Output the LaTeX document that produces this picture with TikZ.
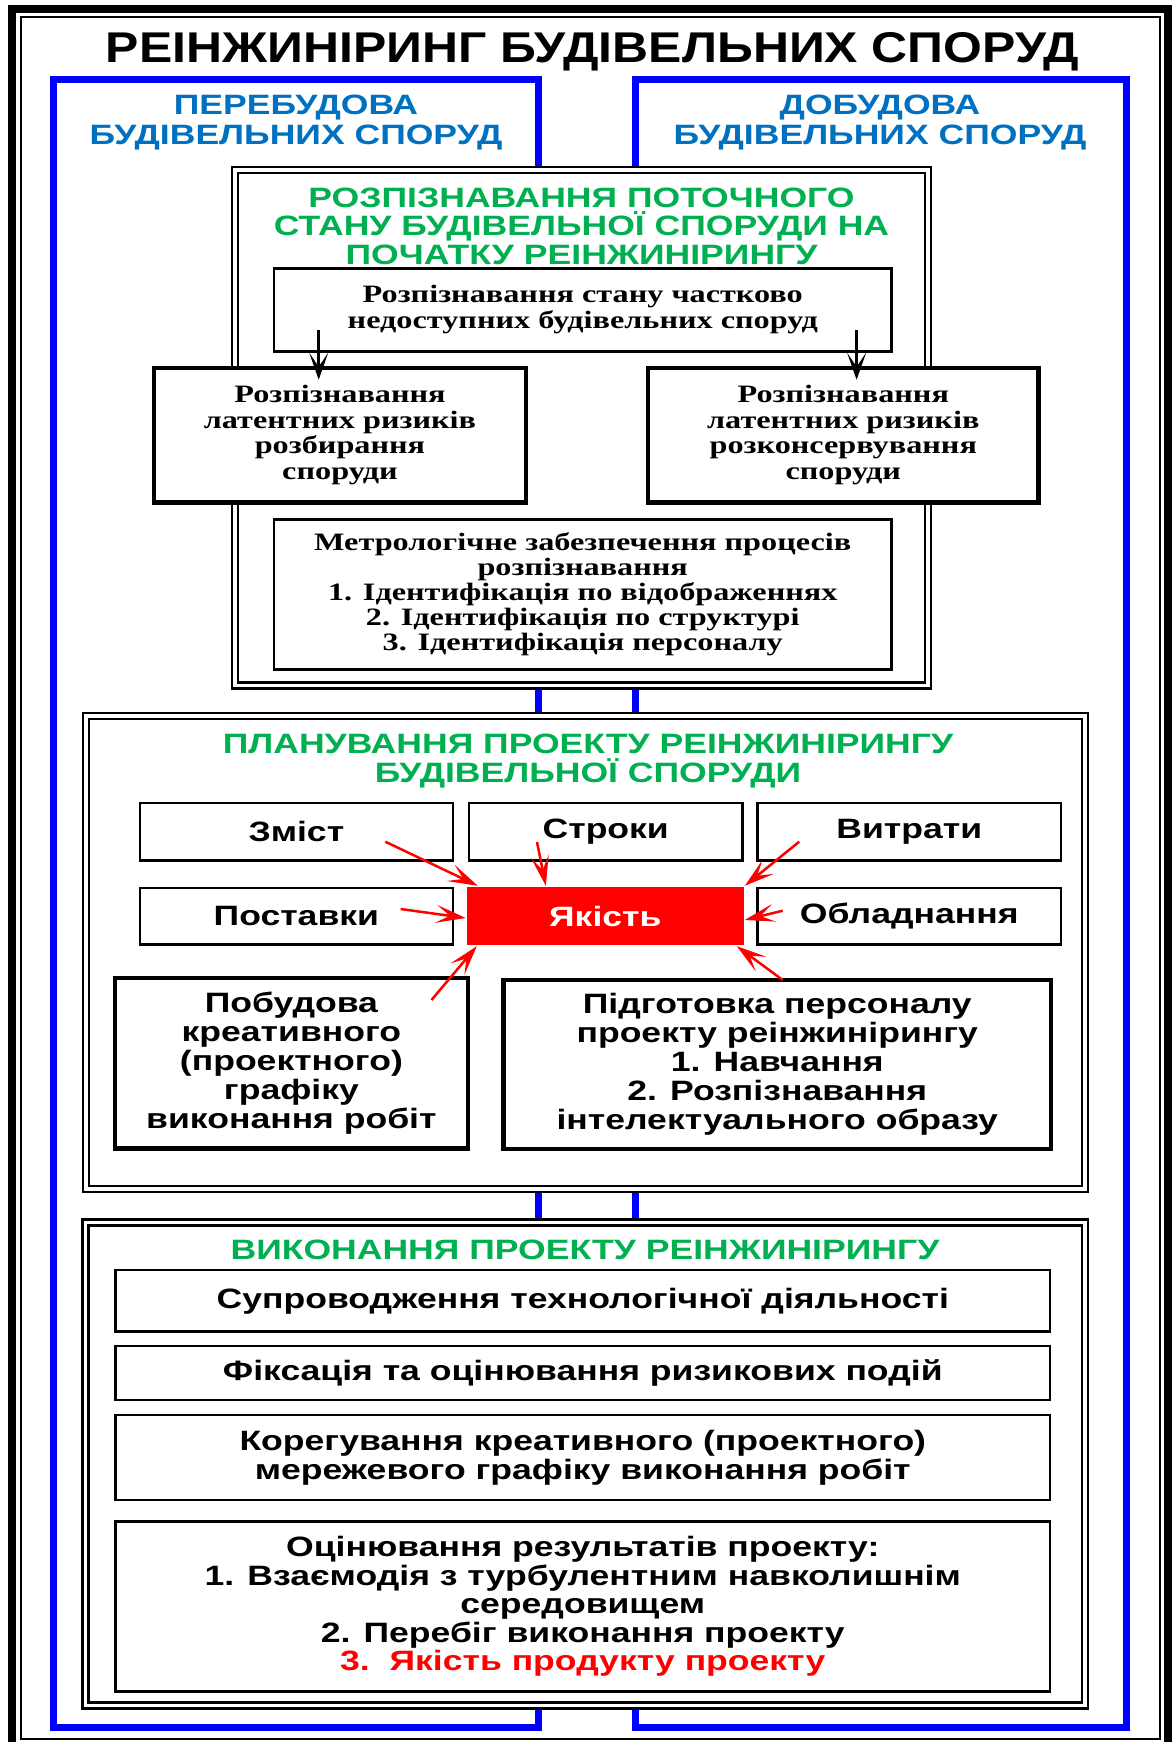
\documentclass[tikz,border=0pt]{standalone}
\usepackage{fontspec}
\setmainfont{Liberation Serif}[FakeStretch=1.29]
\setsansfont{Liberation Sans}[FakeStretch=1.27]
\newfontfamily\titlefont{Liberation Sans}[FakeStretch=1.16]
\usetikzlibrary{arrows.meta}
\definecolor{lineblue}{RGB}{0,0,255}
\definecolor{headblue}{RGB}{0,112,192}
\definecolor{headgreen}{RGB}{0,176,80}
\definecolor{accent}{RGB}{255,0,0}

\begin{document}
\begin{tikzpicture}[x=1pt, y=-1pt,
    every node/.style={inner sep=0pt},
    stage/.style={rectangle, draw, line width=2.3pt, double, double distance=3.7pt, fill=white},
    box/.style={rectangle, draw, line width=2.4pt, fill=white, align=center,
                font=\sffamily\bfseries\fontsize{28}{28.5}\selectfont},
    heavy/.style={line width=4.5pt},
    serif/.style={font=\rmfamily\bfseries\fontsize{25}{25.5}\selectfont},
    stagehead/.style={align=center, text=headgreen, font=\sffamily\bfseries\fontsize{28}{28.5}\selectfont},
    sidehead/.style={align=center, text=headblue, font=\sffamily\bfseries\fontsize{28}{30}\selectfont},
    ar/.style={-{Stealth[length=27pt, width=19pt, inset=14pt]}, line width=2.7pt},
    rar/.style={draw=accent, -{Stealth[length=30pt, width=18pt, inset=14pt, accent]}, line width=2.5pt}
]
\useasboundingbox (0,0) rectangle (1173,1742);
\fill[white] (0,0) rectangle (1173,1742);
% page frame
\draw[line width=8pt] (12,9) rectangle (1167.5,1746);
\draw[line width=2pt] (21,16.7) rectangle (1160,1738.5);
% two blue brackets
\draw[lineblue, line width=7pt] (53.5,79.5) rectangle (538.5,1727.5);
\draw[lineblue, line width=7pt] (635,79.5) rectangle (1126,1727.5);

\node[anchor=base, font=\titlefont\bfseries\fontsize{43}{48}\selectfont] (title) at (592.5,63)
    {РЕІНЖИНІРИНГ БУДІВЕЛЬНИХ СПОРУД};
\node[sidehead] (rebuild) at (296,123) {ПЕРЕБУДОВА\\БУДІВЕЛЬНИХ СПОРУД};
\node[sidehead] (extend) at (880,123) {ДОБУДОВА\\БУДІВЕЛЬНИХ СПОРУД};

% stage 1: recognition
\node[stage, minimum width=692.75pt, minimum height=515.75pt] (recog) at (581.4,427.6) {};
\node[stagehead] (recoghead) at (581.5,226.3)
    {РОЗПІЗНАВАННЯ ПОТОЧНОГО\\СТАНУ БУДІВЕЛЬНОЇ СПОРУДИ НА\\ПОЧАТКУ РЕІНЖИНІРИНГУ};
\node[box, serif, font=\rmfamily\bfseries\fontsize{25}{26}\selectfont,
      minimum width=617.5pt, minimum height=83pt] (hidden) at (582.75,310)
    {Розпізнавання стану частково\\недоступних будівельних споруд};
\node[box, serif, heavy, minimum width=372pt, minimum height=134.5pt] (latL) at (340,435.25)
    {Розпізнавання\\латентних ризиків\\розбирання\\споруди};
\node[box, serif, heavy, minimum width=390.6pt, minimum height=134.5pt] (latR) at (843.3,435.25)
    {Розпізнавання\\латентних ризиків\\розконсервування\\споруди};
\node[box, serif, font=\rmfamily\bfseries\fontsize{25}{25}\selectfont,
      minimum width=617.5pt, minimum height=150pt] (metro) at (582.75,594.5)
    {Метрологічне забезпечення процесів\\розпізнавання\\1. Ідентифікація по відображеннях\\2. Ідентифікація по структурі\\3. Ідентифікація персоналу};
\coordinate (dL) at (318.7,330);
\coordinate (dR) at (856.6,330);
\draw[ar] (dL) -- ([yshift=-14pt]dL |- latL.north);
\draw[ar] (dR) -- ([yshift=-14pt]dR |- latR.north);

% stage 2: planning
\node[stage, minimum width=999.25pt, minimum height=473pt] (plan) at (585.4,952.5) {};
\node[stagehead] (planhead) at (588,761)
    {ПЛАНУВАННЯ ПРОЕКТУ РЕІНЖИНІРИНГУ\\БУДІВЕЛЬНОЇ СПОРУДИ};
\node[box, minimum width=313.3pt, minimum height=57.5pt] (scope) at (296.35,831.75) {Зміст};
\node[box, minimum width=273.5pt, minimum height=57.5pt] (terms) at (605.75,831.75) {Строки};
\node[box, minimum width=303.5pt, minimum height=57.5pt] (costs) at (909.25,831.75) {Витрати};
\node[box, minimum width=313.3pt, minimum height=56.5pt] (supply) at (296.35,916.25) {Поставки};
\node[box, draw=none, fill=accent, text=white, minimum width=276.6pt, minimum height=58pt] (yakist) at (605.3,916) {Якість};
\node[box, minimum width=303.5pt, minimum height=56.5pt] (equip) at (909.25,916.25) {Обладнання};
\node[box, heavy, font=\sffamily\bfseries\fontsize{28}{29}\selectfont,
      minimum width=352.8pt, minimum height=170.7pt] (sched) at (291.4,1063.35)
    {Побудова\\креативного\\(проектного)\\графіку\\виконання робіт};
\node[box, heavy, font=\sffamily\bfseries\fontsize{28}{29}\selectfont,
      minimum width=547.5pt, minimum height=169pt] (staff) at (777.25,1064.5)
    {Підготовка персоналу\\проекту реінжинірингу\\1. Навчання\\2. Розпізнавання\\інтелектуального образу};
\coordinate (fZ) at (385.3,841.7);
\coordinate (fS) at (537,842);
\coordinate (fV) at (799.2,841.7);
\coordinate (fP) at (400.6,909);
\coordinate (fO) at (782.7,910.7);
\coordinate (fB) at (431.5,1000);
\coordinate (fT) at (782.7,980);
\draw[rar] (fZ) -- ([xshift=12pt]yakist.north west);
\draw[rar] (fS) -- ([xshift=80pt]yakist.north west);
\draw[rar] (fV) -- (yakist.north east);
\draw[rar] (fP) -- ([yshift=-2pt]yakist.west);
\draw[rar] (fO) -- ([yshift=-4pt]yakist.east);
\draw[rar] (fB) -- ([xshift=11pt]yakist.south west);
\draw[rar] (fT) -- ([xshift=-8pt]yakist.south east);

% stage 3: execution
\node[stage, minimum width=999.5pt, minimum height=483pt] (exec) at (585.25,1464) {};
\node[stagehead, anchor=base] (exechead) at (585,1259) {ВИКОНАННЯ ПРОЕКТУ РЕІНЖИНІРИНГУ};
\node[box, minimum width=934.5pt, minimum height=61.5pt] (support) at (582.75,1300.75)
    {Супроводження технологічної діяльності};
\node[box, minimum width=934.5pt, minimum height=54pt] (risk) at (582.75,1373)
    {Фіксація та оцінювання ризикових подій};
\node[box, minimum width=934.5pt, minimum height=85pt] (adjust) at (582.75,1457.5)
    {Корегування креативного (проектного)\\мережевого графіку виконання робіт};
\node[box, minimum width=934.5pt, minimum height=170pt] (result) at (582.75,1606.5)
    {Оцінювання результатів проекту:\\1. Взаємодія з турбулентним навколишнім\\середовищем\\2. Перебіг виконання проекту\\\textcolor{accent}{3.\ \ Якість продукту проекту}};
\end{tikzpicture}
\end{document}
